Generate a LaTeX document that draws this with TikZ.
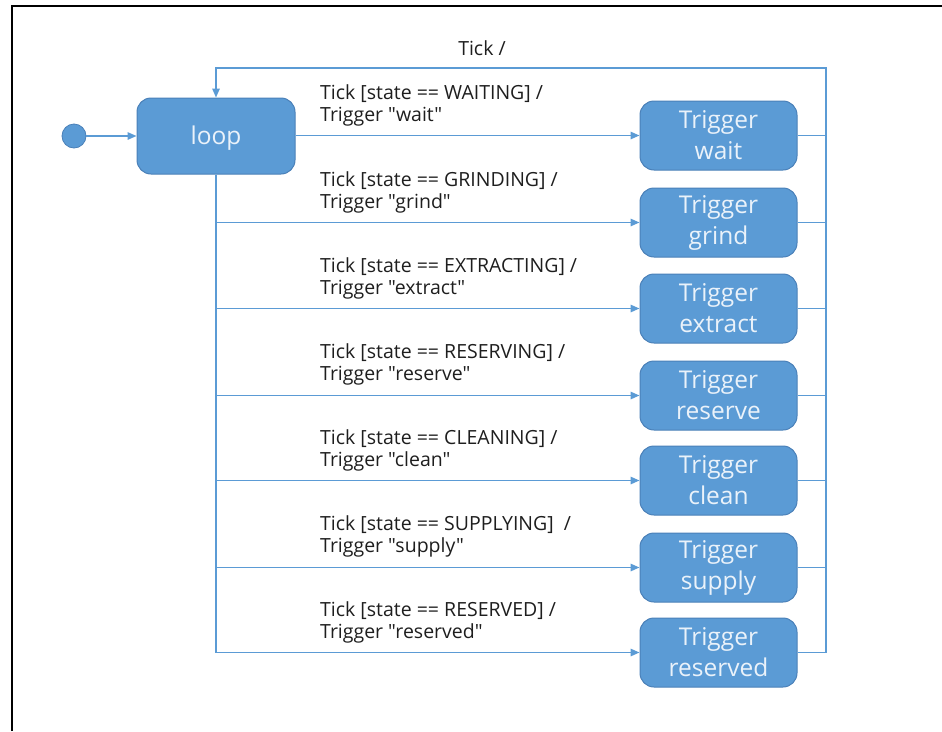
\documentclass[tikz,border=0pt]{standalone}
\usepackage{fontspec}
\setmainfont{Open Sans}
% plain family without TeX ligature mapping, so " stays a straight quote
\newfontfamily\labelfont{Open Sans}
\usetikzlibrary{arrows.meta}
\definecolor{stateblue}{HTML}{5B9BD5}
\definecolor{stateedge}{HTML}{4A80B8}
\definecolor{statetext}{HTML}{EAF2FA}
\definecolor{labeltext}{HTML}{1E1E1E}
\begin{document}
\begin{tikzpicture}[x=1pt,y=-1pt,
  statebox/.style={draw=stateedge, fill=stateblue, rounded corners=14pt,
    line width=1pt, text=statetext, font=\labelfont\fontsize{24.5}{31}\selectfont,
    align=center, inner sep=0pt,
    % extra height on the first line sets the text a little lower in the box
    execute at begin node={\rule{0pt}{23pt}}},
  trigbox/.style={statebox, minimum width=157pt, minimum height=69pt},
  flow/.style={draw=stateblue, line width=1.5pt},
  arr/.style={flow, -{Triangle[length=9pt,width=7.5pt]}},
  guard/.style={anchor=base west, align=left, text=labeltext,
    font=\labelfont\fontsize{19.5}{22}\selectfont, inner sep=0pt}]

\useasboundingbox (0,0) rectangle (942,731);
% page frame
\draw[line width=2pt] (11.5,731) -- (11.5,5.5) -- (942,5.5);

% initial pseudo-state and loop state
\node[circle, fill=stateblue, draw=stateedge, line width=0.8pt,
      minimum size=24pt, inner sep=0pt] (init) at (74,136) {};
\node[statebox, minimum width=158pt, minimum height=76pt] (loop) at (216,136) {loop};
\draw[arr] (init) -- (loop);

% trigger states
\node[trigbox] (t1) at (718.5,135.5) {Trigger\\wait};
\node[trigbox] (t2) at (718.5,222.5) {Trigger\\grind};
\node[trigbox] (t3) at (718.5,308.5) {Trigger\\extract};
\node[trigbox] (t4) at (718.5,395.5) {Trigger\\reserve};
\node[trigbox] (t5) at (718.5,480.5) {Trigger\\clean};
\node[trigbox] (t6) at (718.5,567.5) {Trigger\\supply};
\node[trigbox] (t7) at (718.5,652.5) {Trigger\\reserved};

% guarded transitions out of loop
\draw[arr] (loop.east |- t1.west) -- (t1.west);
\draw[flow] (loop.south) -- (loop.south |- t7.west);
\foreach \i in {2,...,7}
  \draw[arr] (loop.south |- t\i.west) -- (t\i.west);

% guard / effect labels (anchored at the baseline of their second line)
\node[guard] (g1) at (320,121) {Tick [state ==\ WAITING] /\\Trigger "wait"};
\node[guard] (g2) at (320,208) {Tick [state ==\ GRINDING] /\\Trigger "grind"};
\node[guard] (g3) at (320,294) {Tick [state ==\ EXTRACTING] /\\Trigger "extract"};
\node[guard] (g4) at (320,380.5) {Tick [state ==\ RESERVING] /\\Trigger "reserve"};
\node[guard] (g5) at (320,466.5) {Tick [state ==\ CLEANING] /\\Trigger "clean"};
\node[guard] (g6) at (320,552.5) {Tick [state ==\ SUPPLYING]\ \ /\\Trigger "supply"};
\node[guard] (g7) at (320,638.5) {Tick [state ==\ RESERVED] /\\Trigger "reserved"};

% return bus back into loop
\coordinate (bustop) at (826,68);
\foreach \i in {1,...,6}
  \draw[flow] (t\i.east) -- (t\i.east -| bustop);
\draw[arr] (t7.east) -- (t7.east -| bustop) -- (bustop) -- (bustop -| loop.north) -- (loop.north);
\node[guard, anchor=base] (tick) at (482,55) {Tick /};
\end{tikzpicture}
\end{document}
